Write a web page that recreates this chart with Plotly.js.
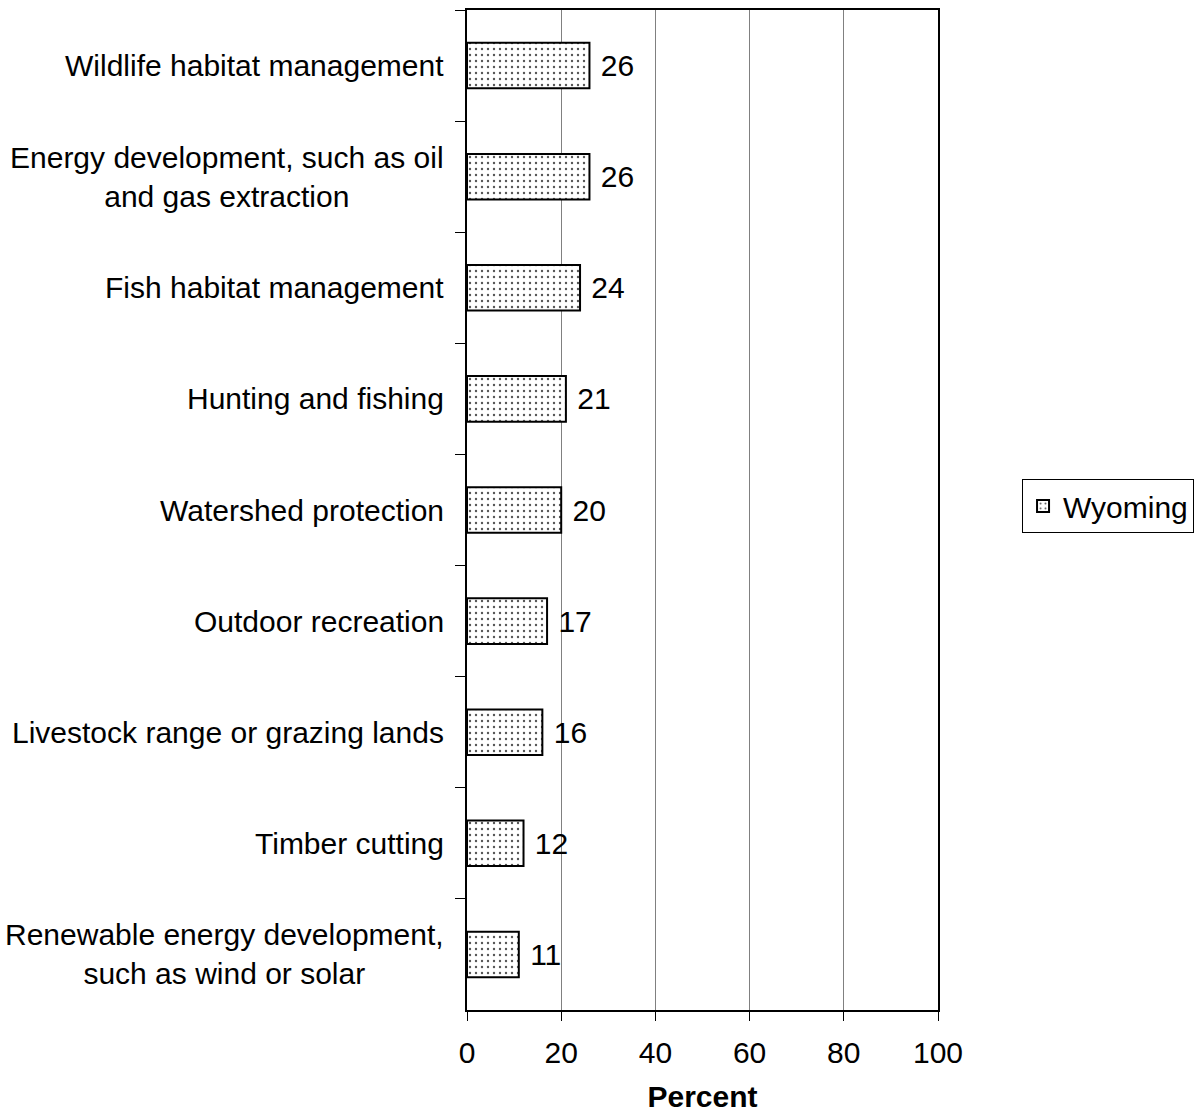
<!DOCTYPE html>
<html>
<head>
<meta charset="utf-8">
<script src="https://cdn.plot.ly/plotly-3.0.1.min.js"></script>
<style>
  html, body { margin: 0; padding: 0; background: #ffffff; }
  #chart { width: 1200px; height: 1113px; }
</style>
</head>
<body>
<div id="chart"></div>
<script>
// categories, top to bottom as in the picture
const categories = [
    'Wildlife habitat management',
    'Energy development, such as oil<br>and gas extraction',
    'Fish habitat management',
    'Hunting and fishing',
    'Watershed protection',
    'Outdoor recreation',
    'Livestock range or grazing lands',
    'Timber cutting',
    'Renewable energy development,<br>such as wind or solar'
];
const wyoming = [26, 26, 24, 21, 20, 17, 16, 12, 11];
const xTicks = [0, 20, 40, 60, 80, 100];

const font = 'Liberation Sans, Arial, sans-serif';
const fsize = 30;

const data = [{
    type: 'bar',
    orientation: 'h',
    name: 'Wyoming',
    x: wyoming,
    y: categories,
    texttemplate: '\u00a0%{x}',
    textposition: 'outside',
    cliponaxis: false,
    textfont: { family: font, size: fsize, color: '#000000' },
    marker: {
        color: '#ffffff',
        line: { color: '#000000', width: 2 },
        pattern: { shape: '.', fgcolor: '#555555', bgcolor: '#ffffff', size: 6, solidity: 0.12 }
    },
    hoverinfo: 'x+y'
}];

// category labels as annotations so the two-line ones are centred like the original
const labelNotes = categories.map(function (c) {
    return {
        xref: 'paper', yref: 'y',
        x: -0.047, y: c,
        xanchor: 'right', yanchor: 'middle',
        text: c,
        align: 'center',
        showarrow: false,
        borderpad: 0,
        font: { family: font, size: fsize, color: '#000000' }
    };
});

const layout = {
    width: 1200,
    height: 1113,
    margin: { l: 467, r: 262, t: 10, b: 103 },
    paper_bgcolor: '#ffffff',
    plot_bgcolor: '#ffffff',
    font: { family: font, size: fsize, color: '#000000' },
    bargap: 0.59,
    xaxis: {
        range: [0, 100],
        tickvals: xTicks,
        ticktext: xTicks.map(String),
        ticks: 'outside',
        ticklen: 9,
        tickwidth: 1,
        tickcolor: '#000000',
        showline: true,
        linecolor: '#000000',
        linewidth: 2,
        mirror: true,
        showgrid: true,
        gridcolor: '#808080',
        gridwidth: 1,
        zeroline: false,
        automargin: false,
        tickfont: { family: font, size: fsize },
        ticklabelstandoff: 6,
        title: { text: '<b>Percent</b>', font: { family: font, size: fsize }, standoff: 20 }
    },
    yaxis: {
        type: 'category',
        autorange: 'reversed',
        ticks: 'outside',
        tickson: 'boundaries',
        ticklen: 10,
        tickwidth: 1,
        tickcolor: '#000000',
        showline: true,
        linecolor: '#000000',
        linewidth: 2,
        mirror: true,
        showgrid: false,
        zeroline: false,
        automargin: false,
        showticklabels: false
    },
    annotations: labelNotes,
    showlegend: true,
    legend: {
        xref: 'container',
        yref: 'container',
        x: 0.8517,
        y: 0.5454,
        xanchor: 'left',
        yanchor: 'middle',
        bordercolor: '#000000',
        borderwidth: 1,
        font: { family: font, size: fsize },
        itemwidth: 30
    }
};

Plotly.newPlot('chart', data, layout, { displayModeBar: false, staticPlot: true });
</script>
</body>
</html>
